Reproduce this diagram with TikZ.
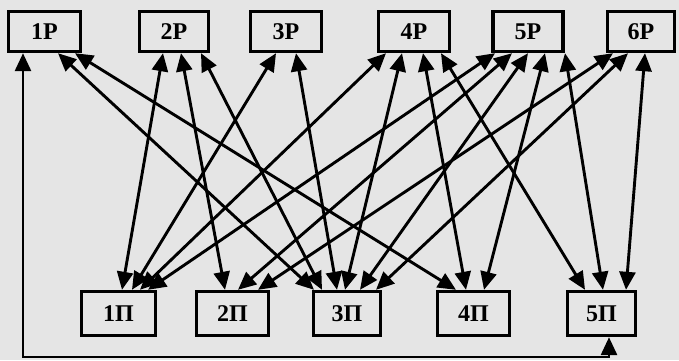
\documentclass[tikz,border=0pt]{standalone}
\usepackage{fontspec}
\setmainfont{Liberation Serif}
\usetikzlibrary{arrows.meta,calc}
\definecolor{paper}{gray}{0.9}
\begin{document}
\begin{tikzpicture}[x=1pt,y=-1pt,
  box/.style={draw, line width=3.4pt, fill=paper, inner sep=0pt,
    font=\fontsize{24}{24}\selectfont\bfseries},
  topbox/.style={box, minimum height=40pt},
  botbox/.style={box, minimum height=44pt},
  link/.style={line width=2.9pt,
    {Triangle[length=18pt,width=16pt]}-{Triangle[length=18pt,width=16pt]}},
]
\fill[paper] (0,0) rectangle (679,360);
\useasboundingbox (0,0) rectangle (679,360);
% top row
\node[topbox, minimum width=72pt] (t1) at (44.5,31.5) {1Р};
\node[topbox, minimum width=69pt] (t2) at (174,31.5) {2Р};
\node[topbox, minimum width=71pt] (t3) at (286,31.5) {3Р};
\node[topbox, minimum width=71pt] (t4) at (414,31.5) {4Р};
\node[topbox, minimum width=70pt] (t5) at (528,31.5) {5Р};
\node[topbox, minimum width=67pt] (t6) at (641,31.5) {6Р};
% bottom row
\node[botbox, minimum width=74pt] (b1) at (118.5,313.5) {1П};
\node[botbox, minimum width=72pt] (b2) at (232.5,313.5) {2П};
\node[botbox, minimum width=67pt] (b3) at (347,313.5) {3П};
\node[botbox, minimum width=72pt] (b4) at (473.5,313.5) {4П};
\node[botbox, minimum width=68pt] (b5) at (601.5,313.5) {5П};
% 1P
\draw[link] ([xshift=13.5pt]t1.south) -- ([xshift=-33pt]b3.north);
\draw[link] ([xshift=30.5pt]t1.south) -- ([xshift=-17.5pt]b4.north);
% 2P
\draw[link] ([xshift=-11pt]t2.south) -- ([xshift=3.5pt]b1.north);
\draw[link] ([xshift=7pt]t2.south) -- ([xshift=-7.5pt]b2.north);
\draw[link] ([xshift=27pt]t2.south) -- ([xshift=-25pt]b3.north);
% 3P
\draw[link] ([xshift=-10pt]t3.south) -- ([xshift=13.5pt]b1.north);
\draw[link] ([xshift=10pt]t3.south) -- ([xshift=-10pt]b3.north);
% 4P
\draw[link] ([xshift=-28pt]t4.south) -- ([xshift=21.5pt]b1.north);
\draw[link] ([xshift=-12pt]t4.south) -- ([xshift=-2pt]b3.north);
\draw[link] ([xshift=9pt]t4.south) -- ([xshift=-7.5pt]b4.north);
\draw[link] ([xshift=27pt]t4.south) -- ([xshift=-16.5pt]b5.north);
% 5P
\draw[link] ([xshift=-33pt]t5.south) -- ([xshift=29.5pt]b1.north);
\draw[link] ([xshift=-16pt]t5.south) -- ([xshift=5.5pt]b2.north);
\draw[link] ([xshift=0pt]t5.south) -- ([xshift=13pt]b3.north);
\draw[link] ([xshift=17pt]t5.south) -- ([xshift=10.5pt]b4.north);
\draw[link] ([xshift=37pt]t5.south) -- ([xshift=1.5pt]b5.north);
% 6P
\draw[link] ([xshift=-28pt]t6.south) -- ([xshift=25.5pt]b2.north);
\draw[link] ([xshift=-13pt]t6.south) -- ([xshift=29pt]b3.north);
\draw[link] ([xshift=4pt]t6.south) -- ([xshift=24.5pt]b5.north);
% bottom loop 1P -- 5П
\coordinate (c1) at (23,357);
\coordinate (c2) at (609,357);
\draw[link] ([xshift=-21.5pt]t1.south) -- (c1) -- (c2) -- ([xshift=7.5pt]b5.south);
\end{tikzpicture}
\end{document}
